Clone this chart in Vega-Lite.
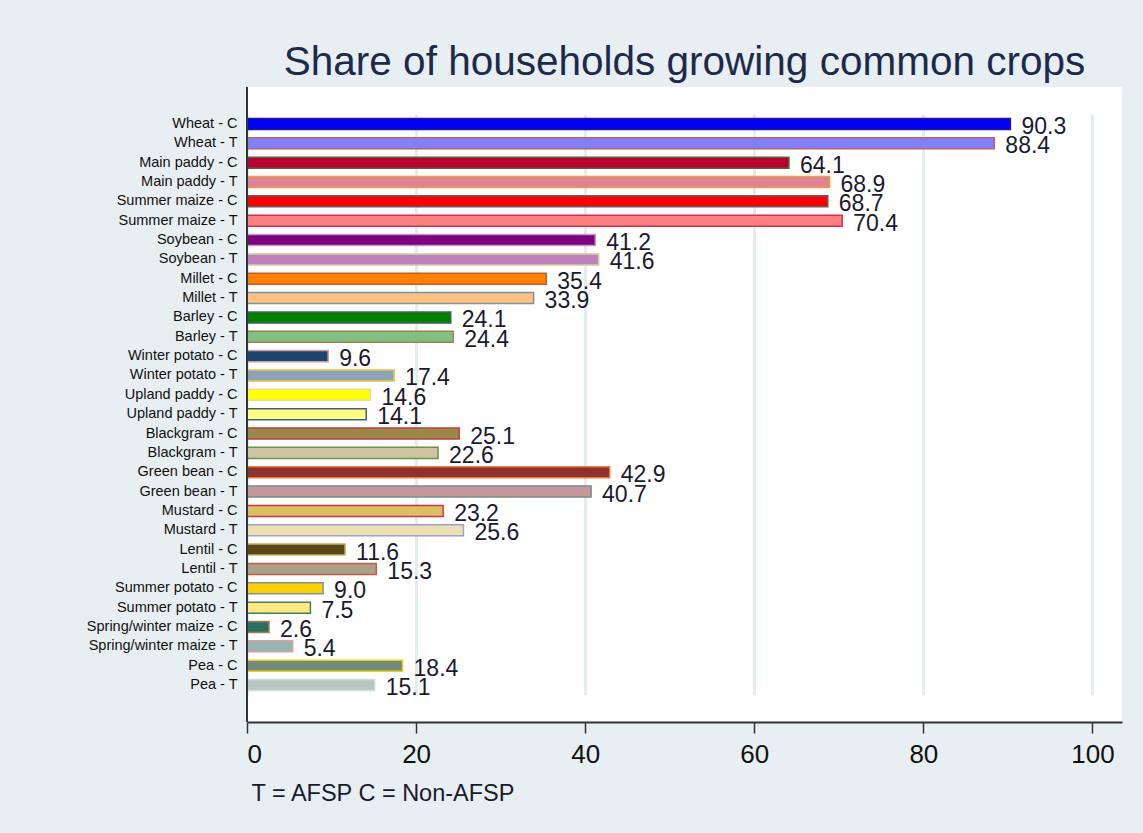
{
  "$schema": "https://vega.github.io/schema/vega-lite/v6.json",
  "autosize": "none",
  "width": 875,
  "height": 635,
  "padding": {"left": 247, "top": 87, "right": 21, "bottom": 111},
  "background": "#e8eff2",
  "config": {
    "font": "Liberation Sans",
    "view": {"fill": "white", "stroke": null}
  },
  "title": {
    "text": "Share of households growing common crops",
    "font": "Liberation Sans",
    "fontSize": 40.5,
    "fontWeight": "normal",
    "color": "#1c2a4c",
    "anchor": "middle",
    "offset": 3
  },
  "data": {
    "values": [
      {"crop": "Wheat - C", "share": 90.3},
      {"crop": "Wheat - T", "share": 88.4},
      {"crop": "Main paddy - C", "share": 64.1},
      {"crop": "Main paddy - T", "share": 68.9},
      {"crop": "Summer maize - C", "share": 68.7},
      {"crop": "Summer maize - T", "share": 70.4},
      {"crop": "Soybean - C", "share": 41.2},
      {"crop": "Soybean - T", "share": 41.6},
      {"crop": "Millet - C", "share": 35.4},
      {"crop": "Millet - T", "share": 33.9},
      {"crop": "Barley - C", "share": 24.1},
      {"crop": "Barley - T", "share": 24.4},
      {"crop": "Winter potato - C", "share": 9.6},
      {"crop": "Winter potato - T", "share": 17.4},
      {"crop": "Upland paddy - C", "share": 14.6},
      {"crop": "Upland paddy - T", "share": 14.1},
      {"crop": "Blackgram - C", "share": 25.1},
      {"crop": "Blackgram - T", "share": 22.6},
      {"crop": "Green bean - C", "share": 42.9},
      {"crop": "Green bean - T", "share": 40.7},
      {"crop": "Mustard - C", "share": 23.2},
      {"crop": "Mustard - T", "share": 25.6},
      {"crop": "Lentil - C", "share": 11.6},
      {"crop": "Lentil - T", "share": 15.3},
      {"crop": "Summer potato - C", "share": 9.0},
      {"crop": "Summer potato - T", "share": 7.5},
      {"crop": "Spring/winter maize - C", "share": 2.6},
      {"crop": "Spring/winter maize - T", "share": 5.4},
      {"crop": "Pea - C", "share": 18.4},
      {"crop": "Pea - T", "share": 15.1}
    ]
  },
  "layer": [
    {
      "mark": {"type": "bar", "strokeWidth": 1.5},
      "encoding": {
        "y": {
          "field": "crop",
          "type": "nominal",
          "sort": null,
          "scale": {"paddingInner": 0.43, "paddingOuter": 0.215, "range": [27.3, 607.7]},
          "axis": {
            "title": null,
            "ticks": false,
            "domain": false,
            "labelFontSize": 14.5,
            "labelColor": "#111111",
            "labelPadding": 10,
            "grid": false
          }
        },
        "x": {
          "field": "share",
          "type": "quantitative",
          "scale": {"domain": [0, 103.5], "nice": false, "zero": true},
          "axis": {
            "values": [0, 20, 40, 60, 80, 100],
            "title": "T = AFSP C = Non-AFSP",
            "titleFontSize": 23.5,
            "titleFontWeight": "normal",
            "titleColor": "#1a1a2e",
            "titleAnchor": "start",
            "titleAlign": "left",
            "titleX": 4,
            "titleY": 78,
            "titleBaseline": "alphabetic",
            "labelFontSize": 26,
            "labelColor": "#111111",
            "labelPadding": 8,
            "tickSize": 11,
            "tickWidth": 1.5,
            "tickColor": "#333333",
            "domainColor": "#333333",
            "domainWidth": 2,
            "grid": true,
            "gridColor": "#e3ecef",
            "gridWidth": 3
          }
        },
        "fill": {
          "field": "crop",
          "type": "nominal",
          "legend": null,
          "scale": {
            "domain": ["Wheat - C", "Wheat - T", "Main paddy - C", "Main paddy - T", "Summer maize - C", "Summer maize - T", "Soybean - C", "Soybean - T", "Millet - C", "Millet - T", "Barley - C", "Barley - T", "Winter potato - C", "Winter potato - T", "Upland paddy - C", "Upland paddy - T", "Blackgram - C", "Blackgram - T", "Green bean - C", "Green bean - T", "Mustard - C", "Mustard - T", "Lentil - C", "Lentil - T", "Summer potato - C", "Summer potato - T", "Spring/winter maize - C", "Spring/winter maize - T", "Pea - C", "Pea - T"],
            "range": ["#0000ff", "#8080ff", "#ba0030", "#e0809a", "#ff0000", "#ff8080", "#800080", "#c080c0", "#ff8000", "#ffc080", "#008000", "#80c080", "#1a4670", "#8ca3b8", "#ffff00", "#ffff80", "#9c8847", "#d0c4a0", "#903030", "#c89898", "#dcc060", "#ede0b0", "#5a4718", "#aca088", "#ffd000", "#ffe880", "#2a6e60", "#98b4b0", "#708c80", "#b8c8c0"]
          }
        },
        "stroke": {
          "field": "crop",
          "type": "nominal",
          "legend": null,
          "scale": {
            "domain": ["Wheat - C", "Wheat - T", "Main paddy - C", "Main paddy - T", "Summer maize - C", "Summer maize - T", "Soybean - C", "Soybean - T", "Millet - C", "Millet - T", "Barley - C", "Barley - T", "Winter potato - C", "Winter potato - T", "Upland paddy - C", "Upland paddy - T", "Blackgram - C", "Blackgram - T", "Green bean - C", "Green bean - T", "Mustard - C", "Mustard - T", "Lentil - C", "Lentil - T", "Summer potato - C", "Summer potato - T", "Spring/winter maize - C", "Spring/winter maize - T", "Pea - C", "Pea - T"],
            "range": ["#1a1a8a", "#c06060", "#606030", "#f0a030", "#606060", "#d03050", "#b0a0d0", "#d0d090", "#c06030", "#8090a0", "#406060", "#a08050", "#d0a0a0", "#f0c040", "#e0e0a0", "#406080", "#c04040", "#709050", "#e08030", "#709090", "#d03050", "#a0a0d0", "#c0b060", "#c06040", "#8090a0", "#408060", "#a08050", "#e0a0a0", "#f0d000", "#d0e0d8"]
          }
        }
      }
    },
    {
      "mark": {
        "type": "text",
        "align": "left",
        "baseline": "middle",
        "dx": 11,
        "dy": 3,
        "fontSize": 23,
        "color": "#1a1a2e"
      },
      "encoding": {
        "y": {"field": "crop", "type": "nominal", "sort": null},
        "x": {"field": "share", "type": "quantitative"},
        "text": {"field": "share", "type": "quantitative", "format": ".1f"}
      }
    },
    {
      "mark": {"type": "rule", "color": "#333333", "strokeWidth": 2},
      "encoding": {
        "x": {"datum": 0}
      }
    }
  ]
}
